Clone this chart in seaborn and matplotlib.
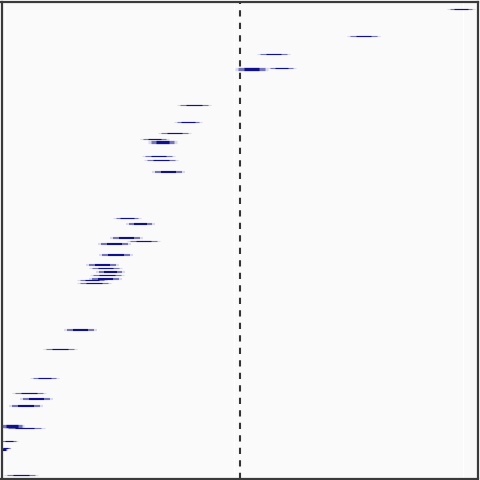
import matplotlib
matplotlib.use("Agg")
import matplotlib.pyplot as plt
import numpy as np
import pandas as pd
import seaborn as sns


# row position (top -> bottom), interval low / high, weight of the row
row_pos = [8, 35, 53, 67, 68, 104, 121, 132, 138, 141, 155, 159, 171,
           217, 223, 237, 240, 243, 254, 264, 267, 271, 274, 278, 279, 282,
           329, 348, 377, 392, 398, 405, 425, 427, 440, 447, 449, 474]
low = [447, 347, 257, 267, 235, 177, 174, 158, 140, 148, 142, 144, 152,
       113, 126, 110, 127, 98, 99, 86, 89, 96, 90, 89, 77, 77,
       64, 43, 30, 12, 20, 9, 0, 4, 0, 0, 0, 4]
high = [475, 380, 290, 296, 268, 211, 202, 191, 169, 177, 175, 178, 185,
        141, 155, 143, 160, 131, 133, 119, 122, 125, 124, 122, 107, 111,
        97, 77, 59, 46, 53, 43, 24, 45, 18, 11, 8, 38]
weight = [1, 1, 1, 1, 3, 1, 1, 1, 1, 3, 1, 1, 2,
          1, 2, 2, 1, 2, 2, 2, 1, 2, 1, 2, 1, 1,
          2, 1, 1, 1, 2, 2, 3, 1, 1, 1, 2, 1]
ref_value = 240
grid_ticks = [5, 234, 463]

levels = {"outer": 1.0, "mid": 0.8, "core": 0.48}
level_colors = {"outer": "#d9d9ef", "mid": "#7373be", "core": "#10108a"}

recs = []
for i, (y, lo, hi, w) in enumerate(zip(row_pos, low, high, weight)):
    mid = (lo + hi) / 2
    half = (hi - lo) / 2
    for lev, frac in levels.items():
        for x in (mid - half * frac, mid + half * frac):
            recs.append({"row": i, "y": y, "x": x, "level": lev, "weight": w})
df = pd.DataFrame(recs)

sns.set_theme(style="whitegrid", rc={"axes.facecolor": "#fafafa",
                                     "grid.color": "white",
                                     "axes.edgecolor": "#3a3a3a"})

fig = plt.figure(figsize=(4.8, 4.8), dpi=100)
ax = fig.add_axes([1.5 / 480, 1.5 / 480, 476 / 480, 476 / 480])

for lev in levels:
    sub = df[df["level"] == lev]
    sns.lineplot(sub, x="x", y="y", units="row", estimator=None,
                 size="weight", sizes={1: 0.8, 2: 1.5, 3: 2.3},
                 color=level_colors[lev], legend=False, ax=ax,
                 solid_capstyle="butt", sort=False)

ax.axvline(ref_value, color="#333333", lw=1.5, ls=(0, (3, 3)))

ax.set_xlim(1.5, 477.5)
ax.set_ylim(477.5, 1.5)
ax.set_xticks(grid_ticks)
ax.set_yticks([])
ax.grid(axis="y", visible=False)
ax.grid(axis="x", lw=1)
ax.tick_params(labelbottom=False, length=0)
ax.set_xlabel("")
ax.set_ylabel("")
for s in ax.spines.values():
    s.set_linewidth(1.6)

fig.savefig("out.png", dpi=100)
